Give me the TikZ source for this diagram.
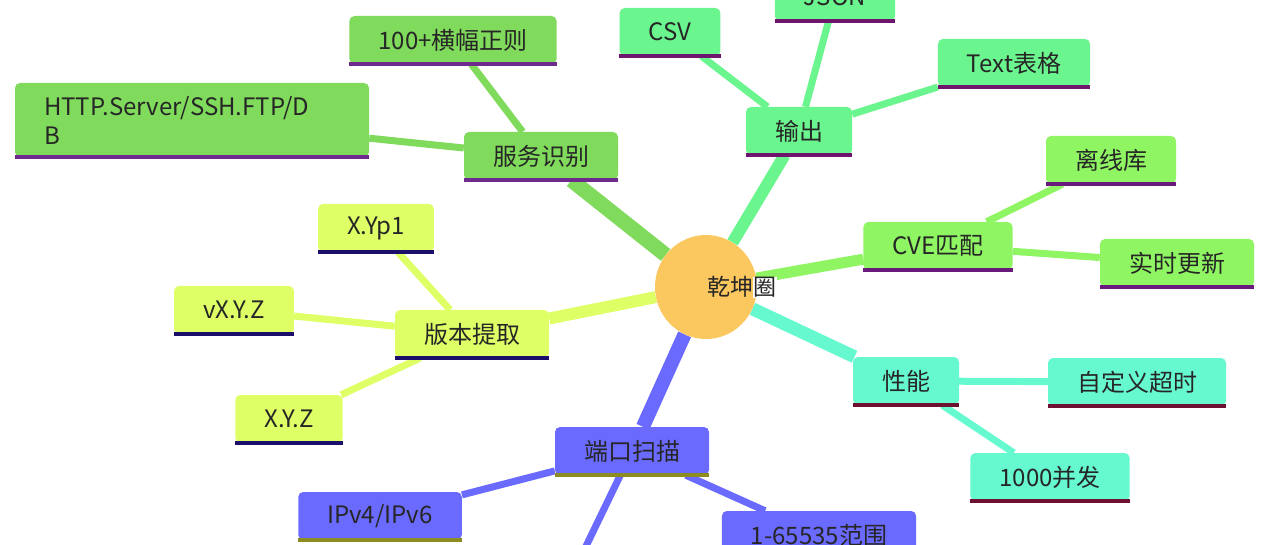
\documentclass[tikz,border=0pt]{standalone}
\usepackage{fontspec}
\newfontfamily\cjk{Noto Sans CJK SC}
\usetikzlibrary{shapes.geometric,backgrounds}
\definecolor{hubc}{HTML}{FAC85F}
\definecolor{svcc}{HTML}{80DA5C}
\definecolor{outc}{HTML}{6BF58E}
\definecolor{cvec}{HTML}{8FF563}
\definecolor{perfc}{HTML}{66F9D0}
\definecolor{verc}{HTML}{DFFF66}
\definecolor{portc}{HTML}{6A6AFF}
\definecolor{svcbar}{HTML}{6E2A8C}
\definecolor{outbar}{HTML}{70156E}
\definecolor{cvebar}{HTML}{6A1A7C}
\definecolor{perfbar}{HTML}{6E1030}
\definecolor{verbar}{HTML}{1C0F6B}
\definecolor{portbar}{HTML}{8C8C22}
\begin{document}
\begin{tikzpicture}[x=1pt, y=-1pt,
	topic/.style 2 args={fill=#1, rounded corners=5pt, minimum height=48pt,
		inner xsep=29pt, inner ysep=0pt, text=black!85,
		font=\cjk\fontsize{24}{29}\selectfont,
		append after command={(\tikzlastnode.south west)
			edge[draw=#2, line width=4pt, rounded corners=0pt] (\tikzlastnode.south east)}}]
			\useasboundingbox (0,0) rectangle (1280,545);
			\node[ellipse, fill=hubc, minimum width=102pt, minimum height=104pt, inner sep=0pt] (hub) at (706,287) {};
			\node[text=black!85, font=\cjk\fontsize{23}{27}\selectfont, inner sep=0pt]
				(hubtext) at (742,287) {乾坤\setlength{\fboxsep}{0.5pt}\colorbox{white}{圈}};
			% service detection
			\node[topic={svcc}{svcbar}] (svc) at (541,156) {服务识别};
			\node[topic={svcc}{svcbar}] (banner) at (453,40) {100+横幅正则};
			\node[topic={svcc}{svcbar}, align=left, text width=296pt, minimum height=74pt]
				(proto) at (192,120) {HTTP.Server/SSH.FTP/D\\B};
			% output
			\node[topic={outc}{outbar}] (out) at (799,131) {输出};
			\node[topic={outc}{outbar}] (csv) at (670,32) {CSV};
			\node[topic={outc}{outbar}] (json) at (835,-3) {JSON};
			\node[topic={outc}{outbar}] (txt) at (1014,63) {Text表格};
			% cve
			\node[topic={cvec}{cvebar}] (cve) at (938,246) {CVE匹配};
			\node[topic={cvec}{cvebar}] (offline) at (1111,160) {离线库};
			\node[topic={cvec}{cvebar}] (live) at (1177,263) {实时更新};
			% performance
			\node[topic={perfc}{perfbar}] (perf) at (906,381) {性能};
			\node[topic={perfc}{perfbar}] (timeout) at (1137,382) {自定义超时};
			\node[topic={perfc}{perfbar}] (conc) at (1050,477) {1000并发};
			% versions
			\node[topic={verc}{verbar}] (ver) at (472,334) {版本提取};
			\node[topic={verc}{verbar}] (xyp) at (376,228) {X.Yp1};
			\node[topic={verc}{verbar}] (vxyz) at (234,310) {vX.Y.Z};
			\node[topic={verc}{verbar}] (xyz) at (289,419) {X.Y.Z};
			% ports
			\node[topic={portc}{portbar}] (port) at (632,451) {端口扫描};
			\node[topic={portc}{portbar}] (ip) at (380,516) {IPv4/IPv6};
			\node[topic={portc}{portbar}] (range) at (819,535) {1-65535范围};
			\coordinate (portout) at (560,600);
			\begin{scope}[on background layer]
				\foreach \b/\c/\w in {svc/svcc/15pt, out/outc/12pt, cve/cvec/11pt,
						perf/perfc/13pt, port/portc/14pt, ver/verc/12pt} {
					\draw[draw=\c, line width=\w] (hub) -- (\b);
				}
				\foreach \a/\b/\c in {%
						svc/banner/svcc, svc/proto/svcc,%
						out/csv/outc, out/json/outc, out/txt/outc,%
						cve/offline/cvec, cve/live/cvec,%
						perf/timeout/perfc, perf/conc/perfc,%
						ver/xyp/verc, ver/vxyz/verc, ver/xyz/verc,%
						port/ip/portc, port/range/portc, port/portout/portc%
					} {
					\draw[draw=\c, line width=7pt] (\a) -- (\b);
				}
			\end{scope}
		\end{tikzpicture}
\end{document}
